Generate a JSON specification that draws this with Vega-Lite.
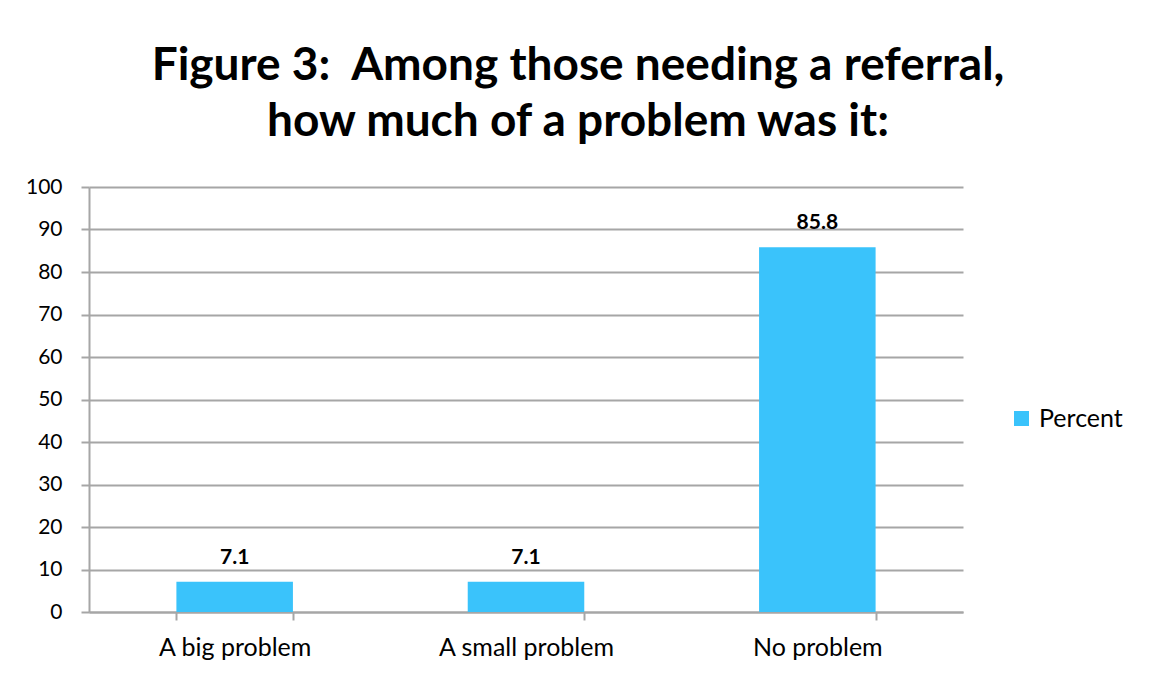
{
  "$schema": "https://vega.github.io/schema/vega-lite/v6.json",
  "width": 874,
  "height": 425,
  "autosize": {"type": "none"},
  "padding": {"left": 89, "top": 187, "right": 190, "bottom": 65},
  "background": "white",
  "title": {
    "text": ["Figure 3:\u00a0 Among those needing a referral,", "how much of a problem was it:"],
    "font": "Lato",
    "fontSize": 46,
    "fontWeight": "bold",
    "color": "#000000",
    "anchor": "middle",
    "dx": 52,
    "offset": 30,
    "lineHeight": 56
  },
  "data": {
    "values": [
      {"category": "A big problem", "Percent": 7.1, "series": "Percent"},
      {"category": "A small problem", "Percent": 7.1, "series": "Percent"},
      {"category": "No problem", "Percent": 85.8, "series": "Percent"}
    ]
  },
  "encoding": {
    "x": {
      "field": "category",
      "type": "nominal",
      "sort": null,
      "scale": {"paddingInner": 0.6, "paddingOuter": 0.3},
      "axis": {
        "title": null,
        "labelAngle": 0,
        "tickBand": "extent",
        "tickSize": 8,
        "tickColor": "#A6A6A6",
        "tickWidth": 2,
        "domainColor": "#A6A6A6",
        "domainWidth": 2,
        "labelFont": "Lato",
        "labelFontSize": 25,
        "labelColor": "#000000",
        "labelPadding": 15,
        "grid": false
      }
    },
    "y": {
      "field": "Percent",
      "type": "quantitative",
      "scale": {"domain": [0, 100], "nice": false},
      "axis": {
        "title": null,
        "values": [0, 10, 20, 30, 40, 50, 60, 70, 80, 90, 100],
        "grid": true,
        "gridColor": "#A6A6A6",
        "gridWidth": 2,
        "tickSize": 8,
        "tickColor": "#A6A6A6",
        "tickWidth": 2,
        "domainColor": "#A6A6A6",
        "domainWidth": 2,
        "labelFont": "Lato",
        "labelFontSize": 21,
        "labelColor": "#000000",
        "labelPadding": 19
      }
    }
  },
  "layer": [
    {
      "mark": {"type": "bar"},
      "encoding": {
        "color": {
          "field": "series",
          "type": "nominal",
          "scale": {"range": ["#3AC3FB"]},
          "legend": {
            "title": null,
            "orient": "none",
            "legendX": 920,
            "legendY": 219,
            "symbolType": "square",
            "symbolSize": 225,
            "symbolStrokeWidth": 0,
            "labelFont": "Lato",
            "labelFontSize": 25,
            "labelColor": "#000000",
            "labelOffset": 5
          }
        }
      }
    },
    {
      "mark": {
        "type": "text",
        "font": "Lato",
        "fontSize": 21,
        "fontWeight": "bold",
        "color": "#000000",
        "baseline": "alphabetic",
        "dy": -18
      },
      "encoding": {
        "text": {"field": "Percent", "type": "quantitative", "format": ".1f"}
      }
    }
  ],
  "config": {
    "view": {"stroke": null}
  }
}
